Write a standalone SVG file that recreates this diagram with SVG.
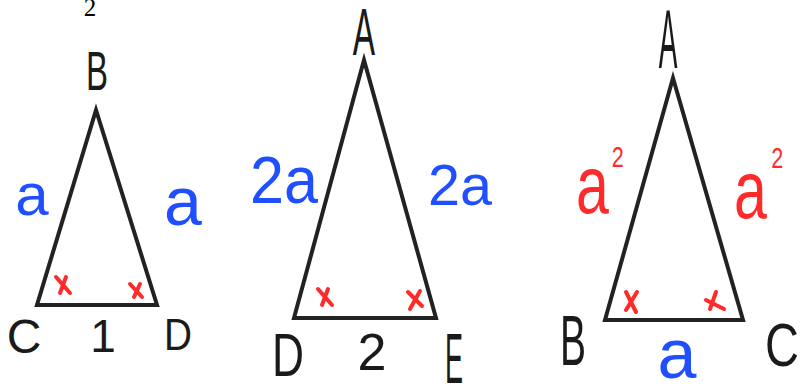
<svg xmlns="http://www.w3.org/2000/svg" width="804" height="389" viewBox="0 0 804 389">
<style>
.tri{fill:none;stroke:#222;stroke-width:4;stroke-linejoin:miter}
.lbl{font-family:"Liberation Sans","DejaVu Sans",sans-serif;fill:#1a1a1a;text-anchor:middle}
.blue{font-family:"Liberation Sans","DejaVu Sans",sans-serif;fill:#1f4fff;text-anchor:middle}
.red{font-family:"Liberation Sans","DejaVu Sans",sans-serif;fill:#ff2a2a}
.mark{fill:none;stroke:#ff2a2a;stroke-width:4;stroke-linecap:round}
</style>
<rect width="804" height="389" fill="#fff"/>
<text x="90" y="16" font-family="Liberation Serif,serif" font-size="25" fill="#000" text-anchor="middle">2</text>

<g id="triangle1">
<polygon class="tri" points="96,110 37,305 157,305"/>
<text class="lbl" x="97" y="90" font-size="56" textLength="22" lengthAdjust="spacingAndGlyphs">B</text>
<text class="lbl" x="24" y="353" font-size="48">C</text>
<text class="lbl" x="103" y="352" font-size="46">1</text>
<text class="lbl" x="178" y="350" font-size="45" textLength="28" lengthAdjust="spacingAndGlyphs">D</text>
<text class="blue" x="32" y="215" font-size="60">a</text>
<text class="blue" x="183" y="225" font-size="68">a</text>
<path class="mark" d="M56,277 L70,293 M66,277 L60,293"/>
<path class="mark" d="M130,284 L142,297 M140,284 L134,297"/>
</g>

<g id="triangle2">
<polygon class="tri" points="364,60 294,318 436,318"/>
<text class="lbl" transform="translate(364,55) scale(0.62,1.25)" font-size="54">A</text>
<text class="lbl" x="288" y="376" font-size="62" textLength="32" lengthAdjust="spacingAndGlyphs">D</text>
<text class="lbl" x="372" y="370" font-size="52">2</text>
<text class="lbl" transform="translate(454,383) scale(0.5,1.3)" font-size="54">E</text>
<text class="blue" x="284" y="203" font-size="66" textLength="68" lengthAdjust="spacingAndGlyphs">2a</text>
<text class="blue" x="460" y="205" font-size="58" textLength="64" lengthAdjust="spacingAndGlyphs">2a</text>
<path class="mark" d="M318,289 L332,305 M328,289 L322,305"/>
<path class="mark" d="M408,292 L422,306 M420,291 L410,309"/>
</g>

<g id="triangle3">
<polygon class="tri" points="673,78 605,320 743,320"/>
<text class="lbl" transform="translate(668,68) scale(0.5,1.5)" font-size="56">A</text>
<text class="lbl" x="573" y="365" font-size="70" textLength="26" lengthAdjust="spacingAndGlyphs">B</text>
<text class="lbl" x="782" y="366" font-size="62" textLength="34" lengthAdjust="spacingAndGlyphs">C</text>
<text class="blue" x="677" y="378" font-size="70">a</text>
<text class="red" transform="translate(576,213) scale(0.72,1)" font-size="82">a<tspan font-size="30" dx="4" dy="-46">2</tspan></text>
<text class="red" transform="translate(734,218) scale(0.72,1)" font-size="82">a<tspan font-size="30" dx="6" dy="-50">2</tspan></text>
<path class="mark" d="M626,292 L636,312 M637,292 L626,310"/>
<path class="mark" d="M706,300 L724,309 M716,292 L710,309"/>
</g>
</svg>
